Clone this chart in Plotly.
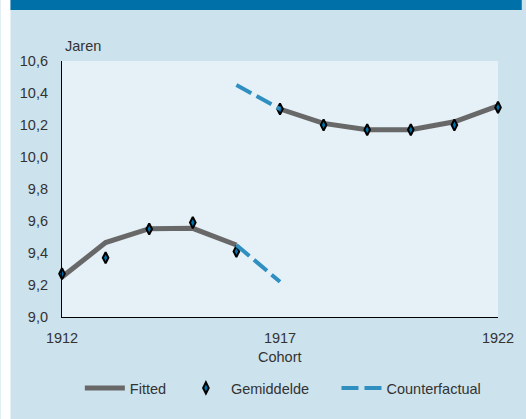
import plotly.graph_objects as go

# ---- data ----
cohorts = [1912, 1913, 1914, 1915, 1916, 1917, 1918, 1919, 1920, 1921, 1922]
gemiddelde = [9.27, 9.37, 9.55, 9.59, 9.41, 10.30, 10.20, 10.17, 10.17, 10.20, 10.31]

fitted_early_x = [1912, 1913, 1914, 1915, 1916]
fitted_early_y = [9.25, 9.465, 9.552, 9.554, 9.45]
fitted_late_x = [1917, 1918, 1919, 1920, 1921, 1922]
fitted_late_y = [10.30, 10.21, 10.17, 10.17, 10.22, 10.32]

cf_early_x = [1916, 1917]
cf_early_y = [9.45, 9.22]
cf_late_x = [1916, 1917]
cf_late_y = [10.45, 10.30]

y_ticks = [9.0, 9.2, 9.4, 9.6, 9.8, 10.0, 10.2, 10.4, 10.6]
x_ticks = [1912, 1917, 1922]

# ---- styles ----
BG = "#cce2ed"
PLOT_BG = "#e5f0f7"
DARK_BLUE = "#0070a8"
GREY = "#686868"
CF_BLUE = "#2e8fc0"
TXT = "#333333"
FONT = "Liberation Sans"
FS = 14.5

fig = go.Figure()

fig.add_trace(go.Scatter(
    x=fitted_early_x + [None] + fitted_late_x,
    y=fitted_early_y + [None] + fitted_late_y,
    mode="lines", name="Fitted", legend="legend",
    line=dict(color=GREY, width=5),
    connectgaps=False,
))
fig.add_trace(go.Scatter(
    x=cohorts, y=gemiddelde, mode="markers", name="Gemiddelde", legend="legend2",
    marker=dict(symbol="diamond-tall", size=8, color=DARK_BLUE,
                line=dict(color="black", width=2)),
    cliponaxis=False,
))
fig.add_trace(go.Scatter(
    x=cf_early_x + [None] + cf_late_x,
    y=cf_early_y + [None] + cf_late_y,
    mode="lines", name="Counterfactual", legend="legend3",
    line=dict(color=CF_BLUE, width=4, dash="17px,6px"),
    connectgaps=False,
))

L, R, T, B = 62, 24, 61, 102
W, H = 526, 419
pw, ph = W - L - R, H - T - B

def px_x(p):
    return (p - L) / pw

def px_y(p):
    return (H - B - p) / ph

def leg(xpix):
    return dict(orientation="h", x=px_x(xpix), xanchor="left",
                y=px_y(388), yanchor="middle",
                bgcolor="rgba(0,0,0,0)", font=dict(size=FS, color=TXT),
                itemwidth=40)

fig.update_layout(
    width=W, height=H,
    margin=dict(l=L, r=R, t=T, b=B),
    paper_bgcolor=BG, plot_bgcolor=PLOT_BG,
    separators=", ",
    font=dict(family=FONT, size=FS, color=TXT),
    showlegend=True,
    legend=leg(80),
    legend2=leg(182),
    legend3=leg(339),
    xaxis=dict(range=[1912, 1922], tickvals=x_ticks, ticktext=[str(t) for t in x_ticks],
               showgrid=False, zeroline=False, showline=True, linecolor="black",
               linewidth=1.2, ticks="outside", ticklen=7, tickcolor="rgba(0,0,0,0)",
               tickfont=dict(size=FS, color=TXT)),
    yaxis=dict(range=[9.0, 10.6], tickvals=y_ticks, tickformat=".1f",
               showgrid=False, zeroline=False, showline=True, linecolor="black",
               linewidth=1.2, ticks="outside", ticklen=10, tickcolor="rgba(0,0,0,0)",
               tickfont=dict(size=FS, color=TXT)),
    shapes=[
        dict(type="rect", xref="paper", yref="paper",
             x0=px_x(0), x1=px_x(10), y0=px_y(H), y1=px_y(0),
             fillcolor="white", line=dict(width=0), layer="above"),
        dict(type="rect", xref="paper", yref="paper",
             x0=px_x(10), x1=px_x(W), y0=px_y(10), y1=px_y(0),
             fillcolor=DARK_BLUE, line=dict(width=0), layer="above"),
    ],
    annotations=[
        dict(text="Jaren", xref="paper", yref="paper", x=px_x(63), y=px_y(46),
             xanchor="left", yanchor="middle", showarrow=False,
             font=dict(size=FS, color=TXT)),
        dict(text="Cohort", xref="paper", yref="paper", x=0.5, y=px_y(357),
             xanchor="center", yanchor="middle", showarrow=False,
             font=dict(size=FS, color=TXT)),
    ],
)

fig.write_html(
    "out.html",
    config={"displayModeBar": False},
    post_script="document.body.style.margin='0';document.body.style.overflow='hidden';",
)
